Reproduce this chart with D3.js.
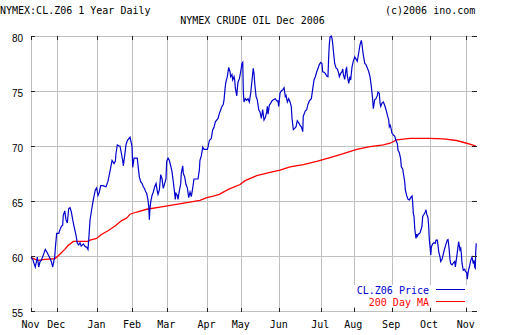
<!DOCTYPE html>
<html><head><meta charset="utf-8">
<script src="https://cdn.jsdelivr.net/npm/d3@7"></script>
<style>body{margin:0;background:#fff}svg{display:block}</style>
</head><body>
<svg id="c" width="512" height="335"></svg>
<script>
// ---- data ----
const monthLabels = ["Nov","Dec","Jan","Feb","Mar","Apr","May","Jun","Jul","Aug","Sep","Oct","Nov"];
// calendar-day offsets from 10 Nov 2005 of the first session of each month
const monthDays = [0,21,54,83,111,144,172,203,237,264,295,326,356];
const yTicks = [55,60,65,70,75,80];
// [day offset, close]
const priceSeries = [[0,59.88],[1.4,59.7],[3.5,59.0],[5.2,59.9],[6.3,59.0],[7.4,59.5],[8.4,59.6],[10.1,60.1],[11.7,60.6],[13.3,60.3],[15.0,59.9],[16.6,59.5],[17.8,59.0],[18.8,59.6],[19.4,59.9],[19.9,60.7],[21.0,62.06],[22.7,62.06],[23.7,62.4],[24.8,62.7],[25.9,62.8],[26.4,63.7],[27.6,64.1],[28.6,63.3],[29.7,63.0],[30.8,64.3],[31.9,64.4],[33.0,64.0],[34.1,63.3],[35.2,62.7],[36.8,61.9],[37.9,61.15],[39.0,61.0],[40.1,61.2],[41.1,60.9],[42.8,61.1],[44.4,60.85],[45.6,60.8],[46.6,60.6],[47.2,61.45],[48.3,63.3],[49.3,64.0],[50.5,64.8],[51.5,65.4],[52.6,66.0],[53.7,66.2],[54.8,65.5],[55.9,65.8],[57.0,66.4],[58.7,66.4],[61.4,66.3],[63.0,66.8],[64.6,67.7],[66.3,68.7],[67.9,68.4],[69.0,68.6],[69.5,69.3],[70.6,70.1],[71.7,70.0],[72.8,70.0],[75.0,68.7],[75.5,68.2],[76.6,69.1],[77.7,70.1],[78.8,70.5],[81.0,70.8],[82.6,70.0],[83.2,68.06],[84.3,68.9],[86.9,68.9],[87.5,68.3],[88.6,67.2],[89.7,66.75],[90.8,66.6],[91.9,66.3],[93.0,66.1],[93.5,65.9],[94.6,65.7],[95.7,65.1],[96.3,64.5],[96.8,63.3],[97.3,64.3],[97.9,64.9],[99.0,65.5],[100.0,65.8],[101.2,66.3],[102.3,66.6],[103.3,65.9],[103.9,65.6],[105.0,66.0],[106.1,67.4],[107.2,67.0],[108.2,66.15],[109.4,66.6],[110.4,67.0],[111.0,68.6],[112.1,68.9],[113.1,68.7],[114.3,68.2],[115.3,67.7],[116.4,66.75],[117.5,65.7],[118.0,65.15],[118.6,65.7],[119.7,65.5],[120.2,65.15],[121.3,65.9],[122.5,66.6],[122.9,67.5],[124.1,68.2],[124.6,67.5],[125.7,67.2],[126.8,66.5],[127.9,66.2],[129.0,65.3],[130.1,65.8],[131.1,65.4],[132.3,66.2],[133.3,67.0],[136.6,67.0],[137.7,67.8],[138.2,68.7],[139.3,69.1],[140.5,69.9],[141.5,69.7],[144.2,69.7],[144.8,69.9],[145.9,70.5],[147.5,70.7],[148.6,71.45],[149.7,71.7],[150.8,72.2],[153.0,72.5],[154.1,72.97],[155.2,73.3],[156.2,73.6],[157.3,73.8],[157.9,74.2],[158.9,75.4],[159.5,75.85],[160.6,76.3],[161.7,77.15],[162.8,76.75],[163.3,76.3],[164.4,76.5],[165.0,76.0],[166.1,76.3],[166.6,76.0],[167.1,75.3],[168.3,74.55],[168.8,75.25],[169.3,75.8],[170.4,76.1],[171.0,76.45],[171.5,76.75],[172.6,77.5],[173.2,77.6],[173.7,74.9],[174.2,74.0],[175.3,74.3],[176.4,74.15],[177.5,74.3],[178.6,74.0],[179.7,74.8],[180.8,76.0],[181.8,77.06],[182.4,76.6],[183.0,75.7],[184.1,74.5],[185.1,74.2],[186.3,73.3],[187.3,73.1],[188.4,72.5],[189.5,73.3],[190.6,72.36],[191.7,72.6],[192.8,73.1],[193.3,73.6],[193.9,72.9],[194.9,73.7],[196.1,73.9],[197.1,74.1],[198.2,74.2],[199.8,74.3],[201.0,74.1],[202.0,74.1],[202.6,73.6],[203.7,74.8],[204.7,75.0],[205.9,75.1],[207.0,75.3],[208.0,74.5],[208.6,74.6],[209.7,74.0],[210.8,74.3],[211.9,74.0],[212.9,73.6],[213.5,72.5],[214.6,71.5],[215.7,71.6],[216.8,71.75],[217.8,72.3],[219.0,72.1],[220.0,71.9],[221.1,71.75],[222.3,71.3],[222.7,72.7],[224.4,73.2],[225.5,73.3],[226.6,73.8],[227.7,74.1],[229.3,74.3],[230.4,75.15],[231.5,76.0],[232.6,76.3],[233.7,76.75],[234.8,77.06],[235.8,77.4],[237.0,77.6],[238.0,77.5],[238.6,76.75],[239.7,76.7],[240.7,76.6],[241.9,76.36],[242.9,76.3],[243.5,78.1],[244.0,79.2],[244.6,79.9],[245.6,80.0],[246.2,79.8],[246.8,79.3],[247.3,78.7],[248.4,77.5],[249.5,77.1],[250.6,77.0],[251.7,76.6],[252.2,76.3],[253.3,76.6],[254.4,76.75],[255.0,77.0],[255.5,76.5],[256.6,76.06],[257.1,76.45],[257.7,77.0],[258.2,77.1],[258.7,76.4],[259.9,75.7],[260.9,76.3],[261.5,76.0],[262.6,77.2],[263.6,77.7],[264.8,78.1],[265.9,77.9],[266.9,77.7],[268.1,78.5],[269.1,79.2],[270.2,79.6],[270.8,79.2],[271.3,78.7],[271.8,78.3],[273.0,77.5],[274.0,77.4],[275.1,77.1],[276.3,76.75],[277.3,76.3],[278.4,75.4],[279.5,74.2],[280.0,73.4],[280.6,73.8],[281.1,74.2],[282.2,74.3],[283.3,74.6],[283.8,74.9],[284.9,74.8],[285.5,73.9],[286.1,73.6],[287.1,73.9],[288.2,74.0],[289.3,73.7],[290.4,73.3],[291.5,72.8],[292.6,72.36],[293.1,71.75],[293.7,71.9],[294.2,71.75],[295.3,71.15],[296.4,71.0],[297.5,70.9],[298.6,70.5],[299.7,70.2],[300.2,69.6],[301.3,69.4],[302.4,68.8],[302.9,68.1],[304.1,67.9],[304.6,67.5],[305.7,66.75],[306.2,66.0],[307.3,65.5],[308.4,65.15],[309.5,65.1],[310.6,65.3],[311.7,65.45],[312.2,64.9],[312.7,63.9],[313.3,63.6],[313.9,62.5],[314.4,62.0],[314.9,61.6],[315.5,62.0],[316.0,61.8],[317.1,62.0],[318.2,62.1],[319.3,62.5],[319.8,62.7],[320.4,63.6],[321.5,63.8],[322.5,64.0],[323.1,64.2],[323.7,63.8],[324.7,63.5],[325.3,62.7],[325.8,61.5],[326.4,60.85],[327.0,60.1],[327.5,60.85],[328.6,61.1],[329.7,61.2],[330.7,61.15],[331.3,61.45],[332.4,61.45],[333.5,60.4],[334.6,59.9],[335.1,59.5],[336.2,59.7],[337.3,60.2],[338.4,60.7],[339.5,61.1],[340.5,61.45],[341.1,61.5],[341.7,61.0],[342.2,60.4],[342.7,59.7],[343.3,59.3],[344.4,59.2],[345.4,59.35],[346.6,59.5],[347.1,59.0],[348.2,59.9],[349.3,60.85],[349.8,61.3],[350.9,60.55],[351.5,60.7],[352.0,60.2],[352.6,59.3],[353.1,59.0],[353.6,58.7],[354.8,58.8],[355.3,58.6],[356.4,58.5],[356.9,57.9],[357.5,58.5],[358.1,58.8],[358.6,59.0],[359.7,59.6],[360.7,59.9],[361.8,59.3],[362.4,59.6],[362.9,59.0],[363.4,58.9],[363.8,60.4],[364.2,61.15]];
// [day offset, 200-day moving average]
const maSeries = [[0,59.85],[3.5,59.7],[5.7,59.6],[11.2,59.7],[19.4,59.75],[22.1,60.0],[24.8,60.3],[27.6,60.6],[30.3,60.95],[34.6,61.33],[46.6,61.33],[48.3,61.45],[53.7,61.6],[57.5,61.95],[63.0,62.3],[68.5,62.7],[73.9,63.2],[78.3,63.45],[81.0,63.8],[86.5,64.0],[94.6,64.25],[105.5,64.45],[116.4,64.65],[127.4,64.85],[138.2,65.05],[143.7,65.3],[149.1,65.45],[154.0,65.6],[161.4,66.06],[171.0,66.5],[175.1,66.85],[184.6,67.3],[195.5,67.6],[203.7,67.8],[211.9,68.1],[222.7,68.3],[233.7,68.6],[244.6,68.95],[255.5,69.3],[266.4,69.7],[277.3,69.94],[288.2,70.1],[293.7,70.25],[299.1,70.55],[310.0,70.7],[326.4,70.7],[337.3,70.64],[348.2,70.5],[356.4,70.25],[364,70.0]];
const legendLabels = ["CL.Z06 Price","200 Day MA"];

// ---- chart ----
const W = 512, H = 335;
const L = 31, R = 476, T = 36, B = 311;
const blue = "#0000cc", red = "#ff0000", gridC = "#c0c0c0", tickC = "#222";
const mono = "'DejaVu Sans Mono', monospace";
const svg = d3.select("#c");
const x = d3.scaleLinear().domain([0, 364]).range([L, R]);
const y = d3.scaleLinear().domain([55, 80]).range([B, T]);

// grid
const grid = svg.append("g").attr("shape-rendering","crispEdges");
grid.selectAll("line.h").data(yTicks).join("line")
  .attr("x1", L).attr("x2", R).attr("y1", d=>Math.round(y(d))+0.5).attr("y2", d=>Math.round(y(d))+0.5)
  .attr("stroke", gridC);
grid.selectAll("line.v").data(monthDays).join("line").attr("class","v")
  .attr("x1", d=>Math.round(x(d))+0.5).attr("x2", d=>Math.round(x(d))+0.5)
  .attr("y1", T).attr("y2", B+1).attr("stroke", gridC);

// lines
const line = d3.line().x(d=>x(d[0])).y(d=>y(d[1]));
svg.append("path").datum(maSeries).attr("d", line).attr("fill","none").attr("stroke", red).attr("stroke-width", 1.3);
svg.append("path").datum(priceSeries).attr("d", line).attr("fill","none").attr("stroke", blue).attr("stroke-width", 1.2);

// dark ticks
const tk = svg.append("g").attr("shape-rendering","crispEdges").attr("stroke", tickC);
monthDays.forEach(d=>{
  const xx = Math.round(x(d))+0.5;
  tk.append("line").attr("x1",xx).attr("x2",xx).attr("y1",T).attr("y2",T+4);
  tk.append("line").attr("x1",xx).attr("x2",xx).attr("y1",B-3).attr("y2",B+1);
});
yTicks.forEach(v=>{
  const yy = Math.round(y(v))+0.5;
  tk.append("line").attr("x1",L).attr("x2",L+4).attr("y1",yy).attr("y2",yy);
  tk.append("line").attr("x1",R-4).attr("x2",R+1).attr("y1",yy).attr("y2",yy);
});

// axes labels
const ax = svg.append("g").attr("transform",`translate(0,${B})`)
  .call(d3.axisBottom(x).tickValues(monthDays).tickFormat((d,i)=>monthLabels[i]).tickSize(0).tickPadding(10));
ax.select(".domain").remove();
ax.selectAll("text").attr("font-family", mono).attr("font-size", 10).attr("fill","#000").attr("dx",-1);
const ay = svg.append("g").attr("transform",`translate(${L},0)`)
  .call(d3.axisLeft(y).tickValues(yTicks).tickSize(0).tickPadding(8));
ay.select(".domain").remove();
ay.selectAll("text").attr("font-family","'Liberation Sans', Arial, sans-serif").attr("font-size", 10).attr("fill","#000").attr("dy","0.5em");

// titles
svg.append("text").attr("x",0).attr("y",14).attr("font-family",mono).attr("font-size",10).text("NYMEX:CL.Z06 1 Year Daily");
svg.append("text").attr("x",385).attr("y",14).attr("font-family",mono).attr("font-size",10).text("(c)2006 ino.com");
svg.append("text").attr("x",252.5).attr("y",23.5).attr("text-anchor","middle").attr("font-family",mono).attr("font-size",10).text("NYMEX CRUDE OIL Dec 2006");

// legend
svg.append("rect").attr("x",350).attr("y",285).attr("width",120).attr("height",22).attr("fill","#fff");
const lg = [[legendLabels[0], blue, 293.5, 289.5],[legendLabels[1], red, 306, 301.5]];
lg.forEach(([t,c,ty,ly])=>{
  svg.append("text").attr("x",429).attr("y",ty).attr("text-anchor","end").attr("font-family",mono).attr("font-size",10).attr("fill",c).text(t);
  svg.append("line").attr("x1",436).attr("x2",465).attr("y1",ly).attr("y2",ly).attr("stroke",c).attr("stroke-width",1.2).attr("shape-rendering","crispEdges");
});
</script>
</body></html>
